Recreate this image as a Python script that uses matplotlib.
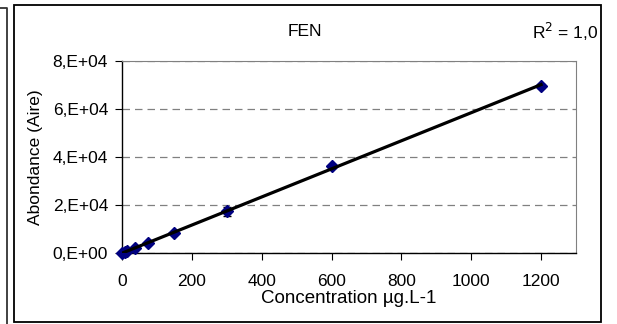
import matplotlib.pyplot as plt
from matplotlib.patches import Rectangle
from matplotlib.lines import Line2D
from matplotlib.ticker import FuncFormatter
import numpy as np

plt.rcParams['font.family'] = ['Liberation Sans', 'DejaVu Sans']

# calibration data
conc = [0, 7.5, 15, 37.5, 75, 150, 300, 600, 1200]
area = [0, 400, 800, 2100, 4200, 8300, 17300, 36200, 69700]
err = [0, 50, 80, 150, 250, 400, 1800, 600, 800]
x_ticks = [0, 200, 400, 600, 800, 1000, 1200]
y_ticks = [0, 20000, 40000, 60000, 80000]

fig = plt.figure(figsize=(6.17, 3.24), dpi=100)

# outer frames (this chart + edge of neighbouring one)
fig.patches.append(Rectangle((14 / 617, 1 - 322 / 324), 587 / 617, 317 / 324,
                             transform=fig.transFigure, fill=False,
                             edgecolor='black', lw=1.3))
fig.lines.append(Line2D([0, 7 / 617, 7 / 617], [1 - 8 / 324, 1 - 8 / 324, 0],
                        transform=fig.transFigure, color='#333333', lw=1.3))

ax = fig.add_axes([122 / 617, 1 - 253 / 324, 454 / 617, 192 / 324])

ax.errorbar(conc, area, yerr=err, fmt='D', color='#000080', ms=6.5,
            ecolor='black', elinewidth=1, capsize=3, zorder=3, clip_on=False)

slope, icpt = np.polyfit(conc, area, 1)
xf = np.array([0, max(conc)])
ax.plot(xf, slope * xf + icpt, color='black', lw=2.3, zorder=4)

ax.set_xlim(0, 1300)
ax.set_ylim(0, 80000)
ax.set_xticks(x_ticks)
ax.set_yticks(y_ticks)
ax.yaxis.set_major_formatter(FuncFormatter(
    lambda v, p: '%d,E+%02d' % (v / 1e4, 4) if v else '0,E+00'))
ax.tick_params(axis='both', labelsize=12.5, length=5, direction='out', color='black')
ax.tick_params(axis='x', pad=10)
ax.tick_params(axis='y', pad=5)

ax.grid(axis='y', color='#808080', ls=(0, (6, 4)), lw=0.9)
for s in ['top', 'right']:
    ax.spines[s].set_color('#808080')
for s in ['left', 'bottom']:
    ax.spines[s].set_color('black')
    ax.spines[s].set_linewidth(1.0)

ax.set_xlabel('Concentration µg.L-1', fontsize=13.5, labelpad=1)
ax.set_ylabel('Abondance (Aire)', fontsize=12.5, labelpad=7)

fig.text(305 / 617, 1 - 32 / 324, 'FEN', ha='center', va='center', fontsize=12.5)
fig.text(532 / 617, 1 - 32 / 324, 'R$^2$ = 1,0', ha='left', va='center', fontsize=12.5)

fig.savefig('out.png', dpi=100)
